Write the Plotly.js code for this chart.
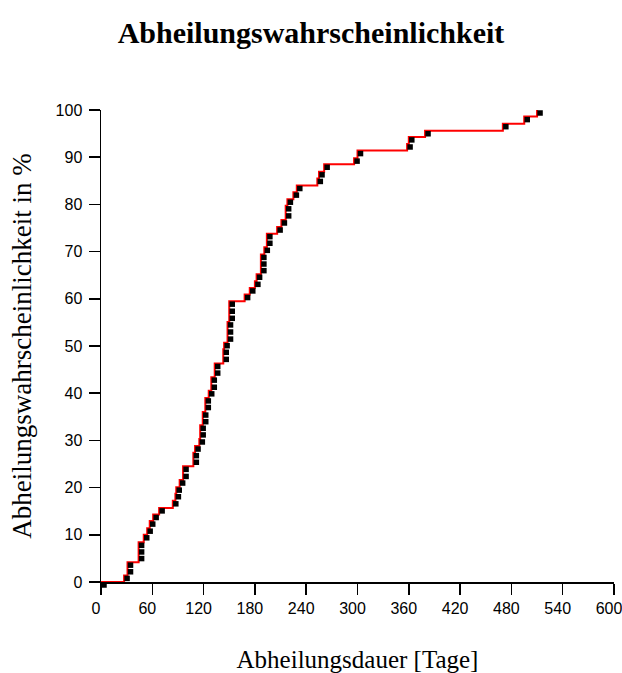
<!DOCTYPE html>
<html>
<head>
<meta charset="utf-8">
<script src="https://cdn.plot.ly/plotly-3.0.1.min.js"></script>
<style>
  html, body { margin: 0; padding: 0; background: #ffffff; }
  #chart { width: 622px; height: 673px; }
</style>
</head>
<body>
<div id="chart"></div>
<script>
// Healing times (days) and cumulative healing probability (%) per event
const healingDays = [
  0, 27, 31, 31, 44, 44, 44, 50, 54, 57,
  61, 68, 84, 87, 88, 92, 96, 96, 108, 108,
  110, 115, 116, 116, 119, 119, 122, 122, 126, 129,
  129, 133, 133, 143, 143, 144, 148, 148, 148, 150,
  150, 150, 168, 174, 180, 182, 187, 187, 187, 191,
  194, 194, 206, 211, 216, 216, 218, 225, 229, 253,
  255, 261, 296, 300, 358, 360, 379, 470, 495, 510
];
const healingPercent = [
  0, 1.4, 2.8, 4.2, 5.6, 7.0, 8.4, 10.0, 11.4, 12.9,
  14.3, 15.7, 17.2, 18.7, 20.1, 21.6, 23.0, 24.5, 26.0, 27.4,
  28.8, 30.3, 31.8, 33.2, 34.6, 36.0, 37.6, 39.0, 40.5, 41.9,
  43.4, 44.9, 46.3, 47.8, 49.3, 50.7, 52.1, 53.6, 55.1, 56.5,
  58.0, 59.5, 60.9, 62.3, 63.7, 65.2, 66.6, 68.0, 69.4, 70.9,
  72.4, 73.8, 75.2, 76.7, 78.2, 79.7, 81.1, 82.6, 84.0, 85.5,
  86.9, 88.5, 89.8, 91.4, 92.8, 94.3, 95.6, 97.1, 98.6, 100
];
const xTickValues = [0, 60, 120, 180, 240, 300, 360, 420, 480, 540, 600];
const yTickValues = [0, 10, 20, 30, 40, 50, 60, 70, 80, 90, 100];

const chartTitle = 'Abheilungswahrscheinlichkeit';
const xTitle = 'Abheilungsdauer [Tage]';
const yTitle = 'Abheilungswahrscheinlichkeit in %';

const xRange = [0, 600];
const yRange = [0, 100];

// Plot box: the step curve lives on the main axes; the square symbols are
// drawn on a twin pair of axes offset by a few pixels, so each square hangs
// below and to the right of its step corner.
const plotWidth = 516;
const plotHeight = 475;
const nudgePx = 3;
const xShift = nudgePx / plotWidth;
const yShift = nudgePx / plotHeight;

const serif = '"Liberation Serif", "Times New Roman", serif';
const sans = '"Liberation Sans", Arial, sans-serif';

const stepLine = {
  x: healingDays,
  y: healingPercent,
  type: 'scatter',
  mode: 'lines',
  line: { shape: 'hv', color: '#ff0000', width: 2 },
  cliponaxis: false,
  hoverinfo: 'skip',
  showlegend: false
};

const eventMarks = {
  x: healingDays,
  y: healingPercent,
  xaxis: 'x2',
  yaxis: 'y2',
  type: 'scatter',
  mode: 'markers',
  marker: { symbol: 'square', size: 5.5, color: '#000000', line: { width: 0 } },
  cliponaxis: false,
  showlegend: false
};

const axisCommon = {
  showgrid: false,
  zeroline: false,
  showline: true,
  linecolor: '#000000',
  linewidth: 1.5,
  ticks: 'outside',
  ticklen: 11,
  tickwidth: 1.5,
  tickcolor: '#000000',
  ticklabeloverflow: 'allow',
  tickfont: { family: sans, size: 16, color: '#000000' }
};

const layout = {
  width: 622,
  height: 673,
  paper_bgcolor: '#ffffff',
  plot_bgcolor: 'rgba(0,0,0,0)',
  margin: { l: 101, r: 622 - 101 - plotWidth, t: 110, b: 673 - 110 - plotHeight },
  title: {
    text: '<b>' + chartTitle + '</b>',
    font: { family: serif, size: 30, color: '#000000' },
    x: 0.5, xref: 'container', xanchor: 'center',
    y: 1 - 32 / 673, yref: 'container', yanchor: 'middle'
  },
  xaxis: Object.assign({}, axisCommon, {
    domain: [0, 1 - xShift],
    anchor: 'y',
    range: xRange,
    tickvals: xTickValues,
    ticktext: xTickValues.map(String),
    ticklabelshift: -5,
    title: { text: xTitle, font: { family: serif, size: 25, color: '#000000' }, standoff: 35 }
  }),
  yaxis: Object.assign({}, axisCommon, {
    domain: [yShift, 1],
    anchor: 'x',
    range: yRange,
    tickvals: yTickValues,
    ticktext: yTickValues.map(String),
    ticklabelstandoff: 3,
    title: { text: yTitle, font: { family: serif, size: 27, color: '#000000' }, standoff: 16 }
  }),
  xaxis2: {
    domain: [xShift, 1],
    anchor: 'y2',
    range: xRange,
    visible: false,
    fixedrange: true
  },
  yaxis2: {
    domain: [0, 1 - yShift],
    anchor: 'x2',
    range: yRange,
    visible: false,
    fixedrange: true
  }
};

Plotly.newPlot('chart', [stepLine, eventMarks], layout, { displayModeBar: false, staticPlot: true });
</script>
</body>
</html>
